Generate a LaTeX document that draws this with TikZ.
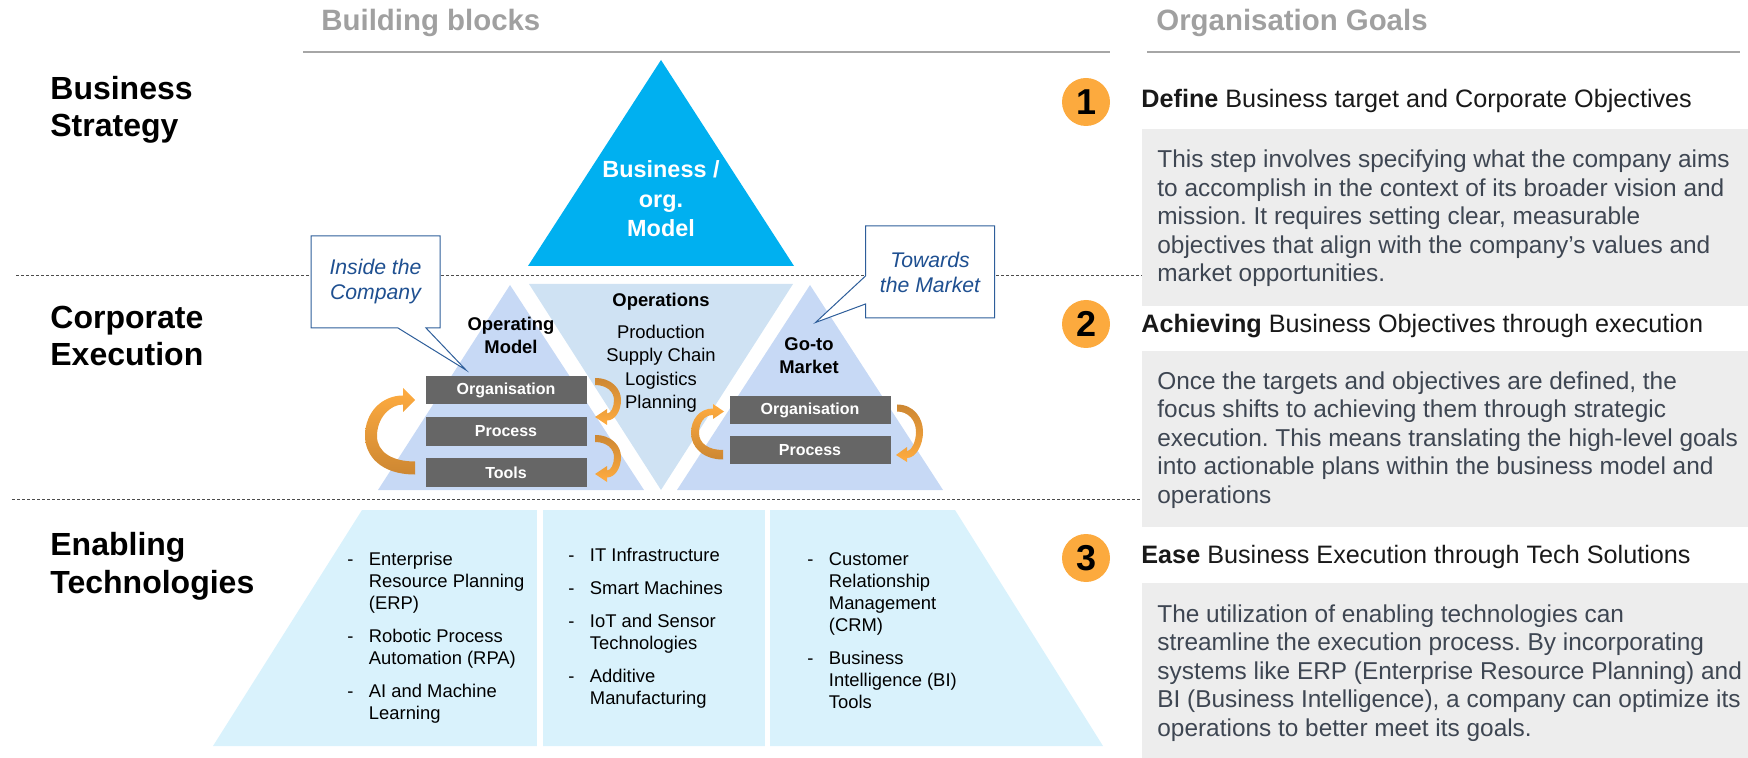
\documentclass[tikz,border=0pt]{standalone}
\usepackage{fontspec}
\setmainfont{Liberation Sans}
\usetikzlibrary{shapes.callouts}
\frenchspacing
\definecolor{headgrey}{RGB}{160,160,160}
\definecolor{rulegrey}{RGB}{166,166,166}
\definecolor{cyantop}{RGB}{0,176,240}
\definecolor{sidetri}{RGB}{199,217,245}
\definecolor{midtri}{RGB}{207,226,243}
\definecolor{techbase}{RGB}{217,242,252}
\definecolor{boxgrey}{RGB}{102,102,102}
\definecolor{panelgrey}{RGB}{237,237,237}
\definecolor{bodytext}{RGB}{62,70,82}
\definecolor{goalorange}{RGB}{252,170,62}
\definecolor{ordark}{RGB}{205,135,50}
\definecolor{orlight}{RGB}{255,172,64}
\definecolor{callblue}{RGB}{46,94,154}
\definecolor{calltext}{RGB}{31,80,145}
\tikzset{
	colhead/.style={anchor=base west, inner sep=0, text=headgrey, font=\fontsize{14.7}{17}\selectfont\bfseries},
	layer/.style={anchor=base west, inner sep=0, align=left, font=\fontsize{16}{18.75}\selectfont\bfseries},
	sepline/.style={dash pattern=on 1.5pt off 1pt, line width=0.5pt, draw=black!70},
	blocklabel/.style={anchor=base, inner sep=0, align=center, font=\fontsize{9.2}{11.5}\selectfont\bfseries},
	greybox/.style={fill=boxgrey, text=white, inner sep=0, minimum width=80.5pt, minimum height=14.2pt, font=\fontsize{8}{9.6}\selectfont\bfseries},
	callbox/.style={rectangle callout, draw=callblue, line width=0.5pt, fill=white, text=calltext, align=center, inner sep=0, minimum width=64.5pt, minimum height=46pt, callout pointer width=14pt, font=\fontsize{10.6}{12.5}\selectfont\itshape},
	techlist/.style={anchor=base west, inner sep=0, font=\fontsize{9.2}{11}\selectfont},
	goalnum/.style={circle, fill=goalorange, minimum size=24pt, inner sep=0, font=\fontsize{18}{20}\selectfont\bfseries},
	goalhead/.style={anchor=base west, inner sep=0, text=black!90, font=\fontsize{12.6}{15}\selectfont},
	goalbody/.style={anchor=base west, inner sep=0, align=left, text=bodytext, font=\fontsize{12.2}{14.25}\selectfont},
	arrup/.style={top color=orlight, bottom color=ordark, draw=none},
	arrdown/.style={top color=ordark, bottom color=orlight, draw=none}
}
\begin{document}
\begin{tikzpicture}[x=0.5pt,y=-0.5pt]
	\useasboundingbox (0,0) rectangle (1748,758);
	% headers
	\node[colhead] (hblocks) at (321,31) {Building blocks};
	\node[colhead] (hgoals) at (1156,31) {Organisation Goals};
	\draw[rulegrey, line width=1.25pt] (303,52) -- (1110,52);
	\draw[rulegrey, line width=1.25pt] (1147,52) -- (1740,52);
	% layers
	\node[layer] (strategy) at (50,137) {Business\\Strategy};
	\node[layer] (execution) at (50,366) {Corporate\\Execution};
	\node[layer] (enabling) at (50,593) {Enabling\\Technologies};
	\draw[sepline] (16,276) -- (1142,276);
	\draw[sepline] (12,499) -- (1142,499);
	% goal panels
	\fill[panelgrey] (1142,129) rectangle (1748,306);
	\fill[panelgrey] (1142,351) rectangle (1748,527);
	\fill[panelgrey] (1142,583) rectangle (1748,758);
	% pyramid
	\fill[cyantop] (661,60) -- (794,266) -- (528,266) -- cycle;
	\node[blocklabel, text=white, font=\fontsize{11.7}{14.75}\selectfont\bfseries] (bizmodel) at (661,237) {Business /\\org.\\Model};
	\fill[sidetri] (510,285) -- (644,490) -- (378,490) -- cycle;
	\fill[midtri] (529,284) -- (793,284) -- (661,490) -- cycle;
	\fill[sidetri] (810,285) -- (943,490) -- (677,490) -- cycle;
	\fill[techbase] (362,510) -- (955,510) -- (1103,746) -- (213,746) -- cycle;
	\draw[white, line width=3pt] (540,505) -- (540,750);
	\draw[white, line width=2.5pt] (767.5,505) -- (767.5,750);
	\node[blocklabel] (opmodel) at (511,353.3) {Operating\\Model};
	\node[blocklabel] (ops) at (661,306.7) {Operations};
	\node[blocklabel, font=\fontsize{9.2}{11.7}\selectfont] (opslist) at (661,408.5) {Production\\Supply Chain\\Logistics\\Planning};
	\node[blocklabel] (gtm) at (809,374) {Go-to\\Market};
	\node[greybox] (lorg) at (506,390) {Organisation};
	\node[greybox] (lproc) at (506,431.5) {Process};
	\node[greybox] (ltools) at (506,472.5) {Tools};
	\node[greybox] (rorg) at (810,410) {Organisation};
	\node[greybox] (rproc) at (810,450) {Process};
	% cycle arrows
	\path[arrup] (415,474.5) .. controls (380,474.5) and (365,455) .. (365,436) .. controls (365,412) and (382,395.5) .. (403,395.5) -- (403,388) -- (415,400) -- (403,412) -- (403,404.5) .. controls (390,404.5) and (377,418) .. (377,436) .. controls (377,452) and (392,461.5) .. (415,461.5) -- cycle;
	\foreach \dy in {0,57}
		\path[arrdown, shift={(0,\dy)}] (595,378) .. controls (612,378) and (621,389) .. (621,400) .. controls (621,411) and (615,420.5) .. (607,420.5) -- (607,425) -- (595,417) -- (607,409) -- (607,413.5) .. controls (611,413.5) and (614,407) .. (614,400) .. controls (614,392) and (607,385) .. (595,385) -- cycle;
	\path[arrup] (723,459.5) .. controls (703,459.5) and (691,447) .. (691,433) .. controls (691,420) and (699,408.5) .. (713,408.5) -- (713,404) -- (724,411.5) -- (713,419) -- (713,415) .. controls (704,415) and (699,423) .. (699,433) .. controls (699,443) and (708,450) .. (723,450) -- cycle;
	\path[arrdown] (897,404.5) .. controls (914,404.5) and (923,418) .. (923,432) .. controls (923,445) and (916,458) .. (907,458) -- (907,462) -- (896,455) -- (907,447) -- (907,451.5) .. controls (912,450) and (916,441) .. (916,432) .. controls (916,420) and (908,411.5) .. (897,411.5) -- cycle;
	% technologies
	\node[techlist] (techerp) at (347,565) {\begin{tabular}[t]{@{}l@{\hspace{7.7pt}}l@{}}
		- & Enterprise\\ & Resource Planning\\ & (ERP)\\[5.5pt]
		- & Robotic Process\\ & Automation (RPA)\\[5.5pt]
		- & AI and Machine\\ & Learning\end{tabular}};
	\node[techlist] (techit) at (568,561.7) {\begin{tabular}[t]{@{}l@{\hspace{7.7pt}}l@{}}
		- & IT Infrastructure\\[5.5pt]
		- & Smart Machines\\[5.5pt]
		- & IoT and Sensor\\ & Technologies\\[5.5pt]
		- & Additive\\ & Manufacturing\end{tabular}};
	\node[techlist] (techcrm) at (807,565) {\begin{tabular}[t]{@{}l@{\hspace{7.7pt}}l@{}}
		- & Customer\\ & Relationship\\ & Management\\ & (CRM)\\[5.5pt]
		- & Business\\ & Intelligence (BI)\\ & Tools\end{tabular}};
	% callouts
	\node[callbox, callout absolute pointer={(466,370)}] (inside) at (375.5,282) {Inside the\\Company};
	\node[callbox, callout absolute pointer={(815.5,322.5)}] (towards) at (930,272) {Towards\\the Market};
	% goals
	\node[goalnum] (g1) at (1086,102) {1};
	\node[goalnum] (g2) at (1086,324) {2};
	\node[goalnum] (g3) at (1086,558) {3};
	\node[goalhead] (def) at (1141,107.3) {\textbf{Define} Business target and Corporate Objectives};
	\node[goalhead] (ach) at (1141,332.7) {\textbf{Achieving} Business Objectives through execution};
	\node[goalhead] (ease) at (1141,563.3) {\textbf{Ease} Business Execution through Tech Solutions};
	\node[goalbody] (defbody) at (1157,281.7) {This step involves specifying what the company aims\\to accomplish in the context of its broader vision and\\mission. It requires setting clear, measurable\\objectives that align with the company’s values and\\market opportunities.};
	\node[goalbody] (achbody) at (1157,503.3) {Once the targets and objectives are defined, the\\focus shifts to achieving them through strategic\\execution. This means translating the high-level goals\\into actionable plans within the business model and\\operations};
	\node[goalbody] (easebody) at (1157,736) {The utilization of enabling technologies can\\streamline the execution process. By incorporating\\systems like ERP (Enterprise Resource Planning) and\\BI (Business Intelligence), a company can optimize its\\operations to better meet its goals.};
\end{tikzpicture}
\end{document}
